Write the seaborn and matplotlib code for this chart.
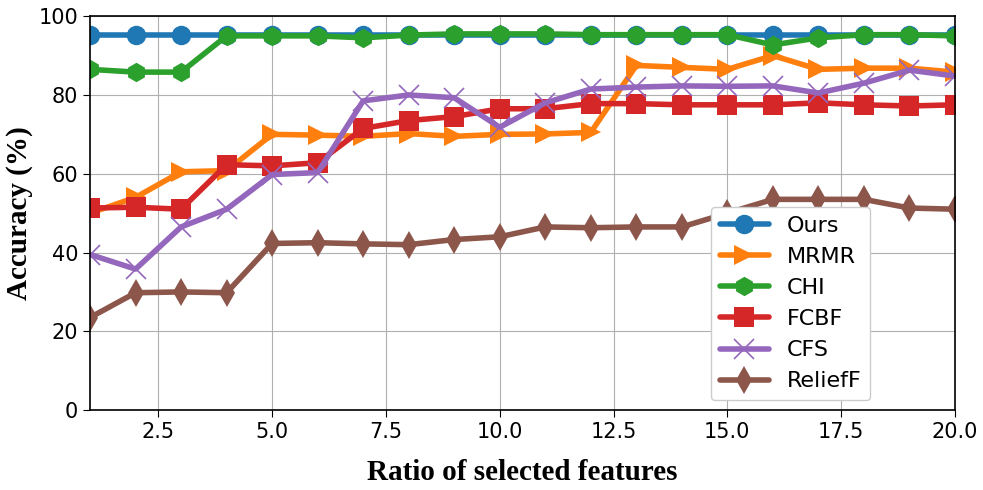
import numpy as np
import pandas as pd
import seaborn as sns
import matplotlib.pyplot as plt

ratios = list(range(1, 21))
ours = [95.3] * 20
mrmr = [50.0, 54.0, 60.5, 60.8, 70.0, 69.8, 69.5, 70.2, 69.5, 70.0,
        70.1, 70.5, 87.5, 87.0, 86.5, 90.0, 86.5, 86.8, 86.8, 85.8]
chi = [86.5, 85.8, 85.8, 95.0, 95.0, 95.0, 94.5, 95.2, 95.5, 95.5,
       95.5, 95.3, 95.3, 95.3, 95.3, 92.7, 94.5, 95.3, 95.3, 95.0]
fcbf = [51.3, 51.5, 51.0, 62.3, 62.0, 62.8, 71.5, 73.5, 74.5, 76.5,
        76.5, 77.8, 77.8, 77.5, 77.5, 77.5, 78.0, 77.5, 77.2, 77.5]
cfs = [39.5, 35.8, 46.5, 51.0, 59.8, 60.3, 78.5, 80.0, 79.3, 71.8,
       78.0, 81.5, 82.0, 82.3, 82.2, 82.3, 80.5, 83.0, 86.3, 84.8]
relieff = [23.5, 29.8, 30.0, 29.8, 42.3, 42.5, 42.2, 42.0, 43.3, 44.0,
           46.5, 46.3, 46.5, 46.5, 50.0, 53.5, 53.5, 53.5, 51.3, 51.0]

methods = ["Ours", "MRMR", "CHI", "FCBF", "CFS", "ReliefF"]
series = [ours, mrmr, chi, fcbf, cfs, relieff]
markers = ["o", ">", "h", "s", "x", "d"]

df = pd.DataFrame({
    "ratio": ratios * len(methods),
    "acc": np.concatenate(series),
    "method": np.repeat(methods, len(ratios)),
})

sns.set_style("whitegrid", {"axes.edgecolor": "black", "grid.color": "#b0b0b0",
                            "text.color": "black", "xtick.color": "black",
                            "ytick.color": "black", "axes.labelcolor": "black"})

fig = plt.figure(figsize=(9.83, 4.9), dpi=100)
ax = fig.add_axes([0.0916, 0.163, 0.8799, 0.804])

colors = sns.color_palette("tab10", len(methods))
for name, mk, c in zip(methods, markers, colors):
    sub = df[df["method"] == name]
    sns.lineplot(data=sub, x="ratio", y="acc", color=c, marker=mk, label=name,
                 linewidth=4, markersize=14,
                 markeredgewidth=1.2 if mk == "x" else 0,
                 markeredgecolor=c, ax=ax)

ax.set_xlim(1, 20)
ax.set_ylim(0, 100)
ax.set_yticks([0, 20, 40, 60, 80, 100])
ax.tick_params(axis="both", labelsize=15, direction="out", length=5,
               left=True, bottom=True, color="black", labelcolor="black")
for s in ax.spines.values():
    s.set_linewidth(1.2)

ax.set_xlabel("Ratio of selected features", fontsize=21, fontweight="bold",
              family="Liberation Serif", labelpad=12)
ax.set_ylabel("Accuracy (%)", fontsize=21, fontweight="bold",
              family="Liberation Serif", labelpad=4)

ax.legend(loc="lower right", bbox_to_anchor=(0.902, 0.025), borderaxespad=0,
          fontsize=16, frameon=True, framealpha=1, handlelength=2.2,
          labelspacing=0.5, borderpad=0.4)

plt.savefig("out.png", dpi=100)
